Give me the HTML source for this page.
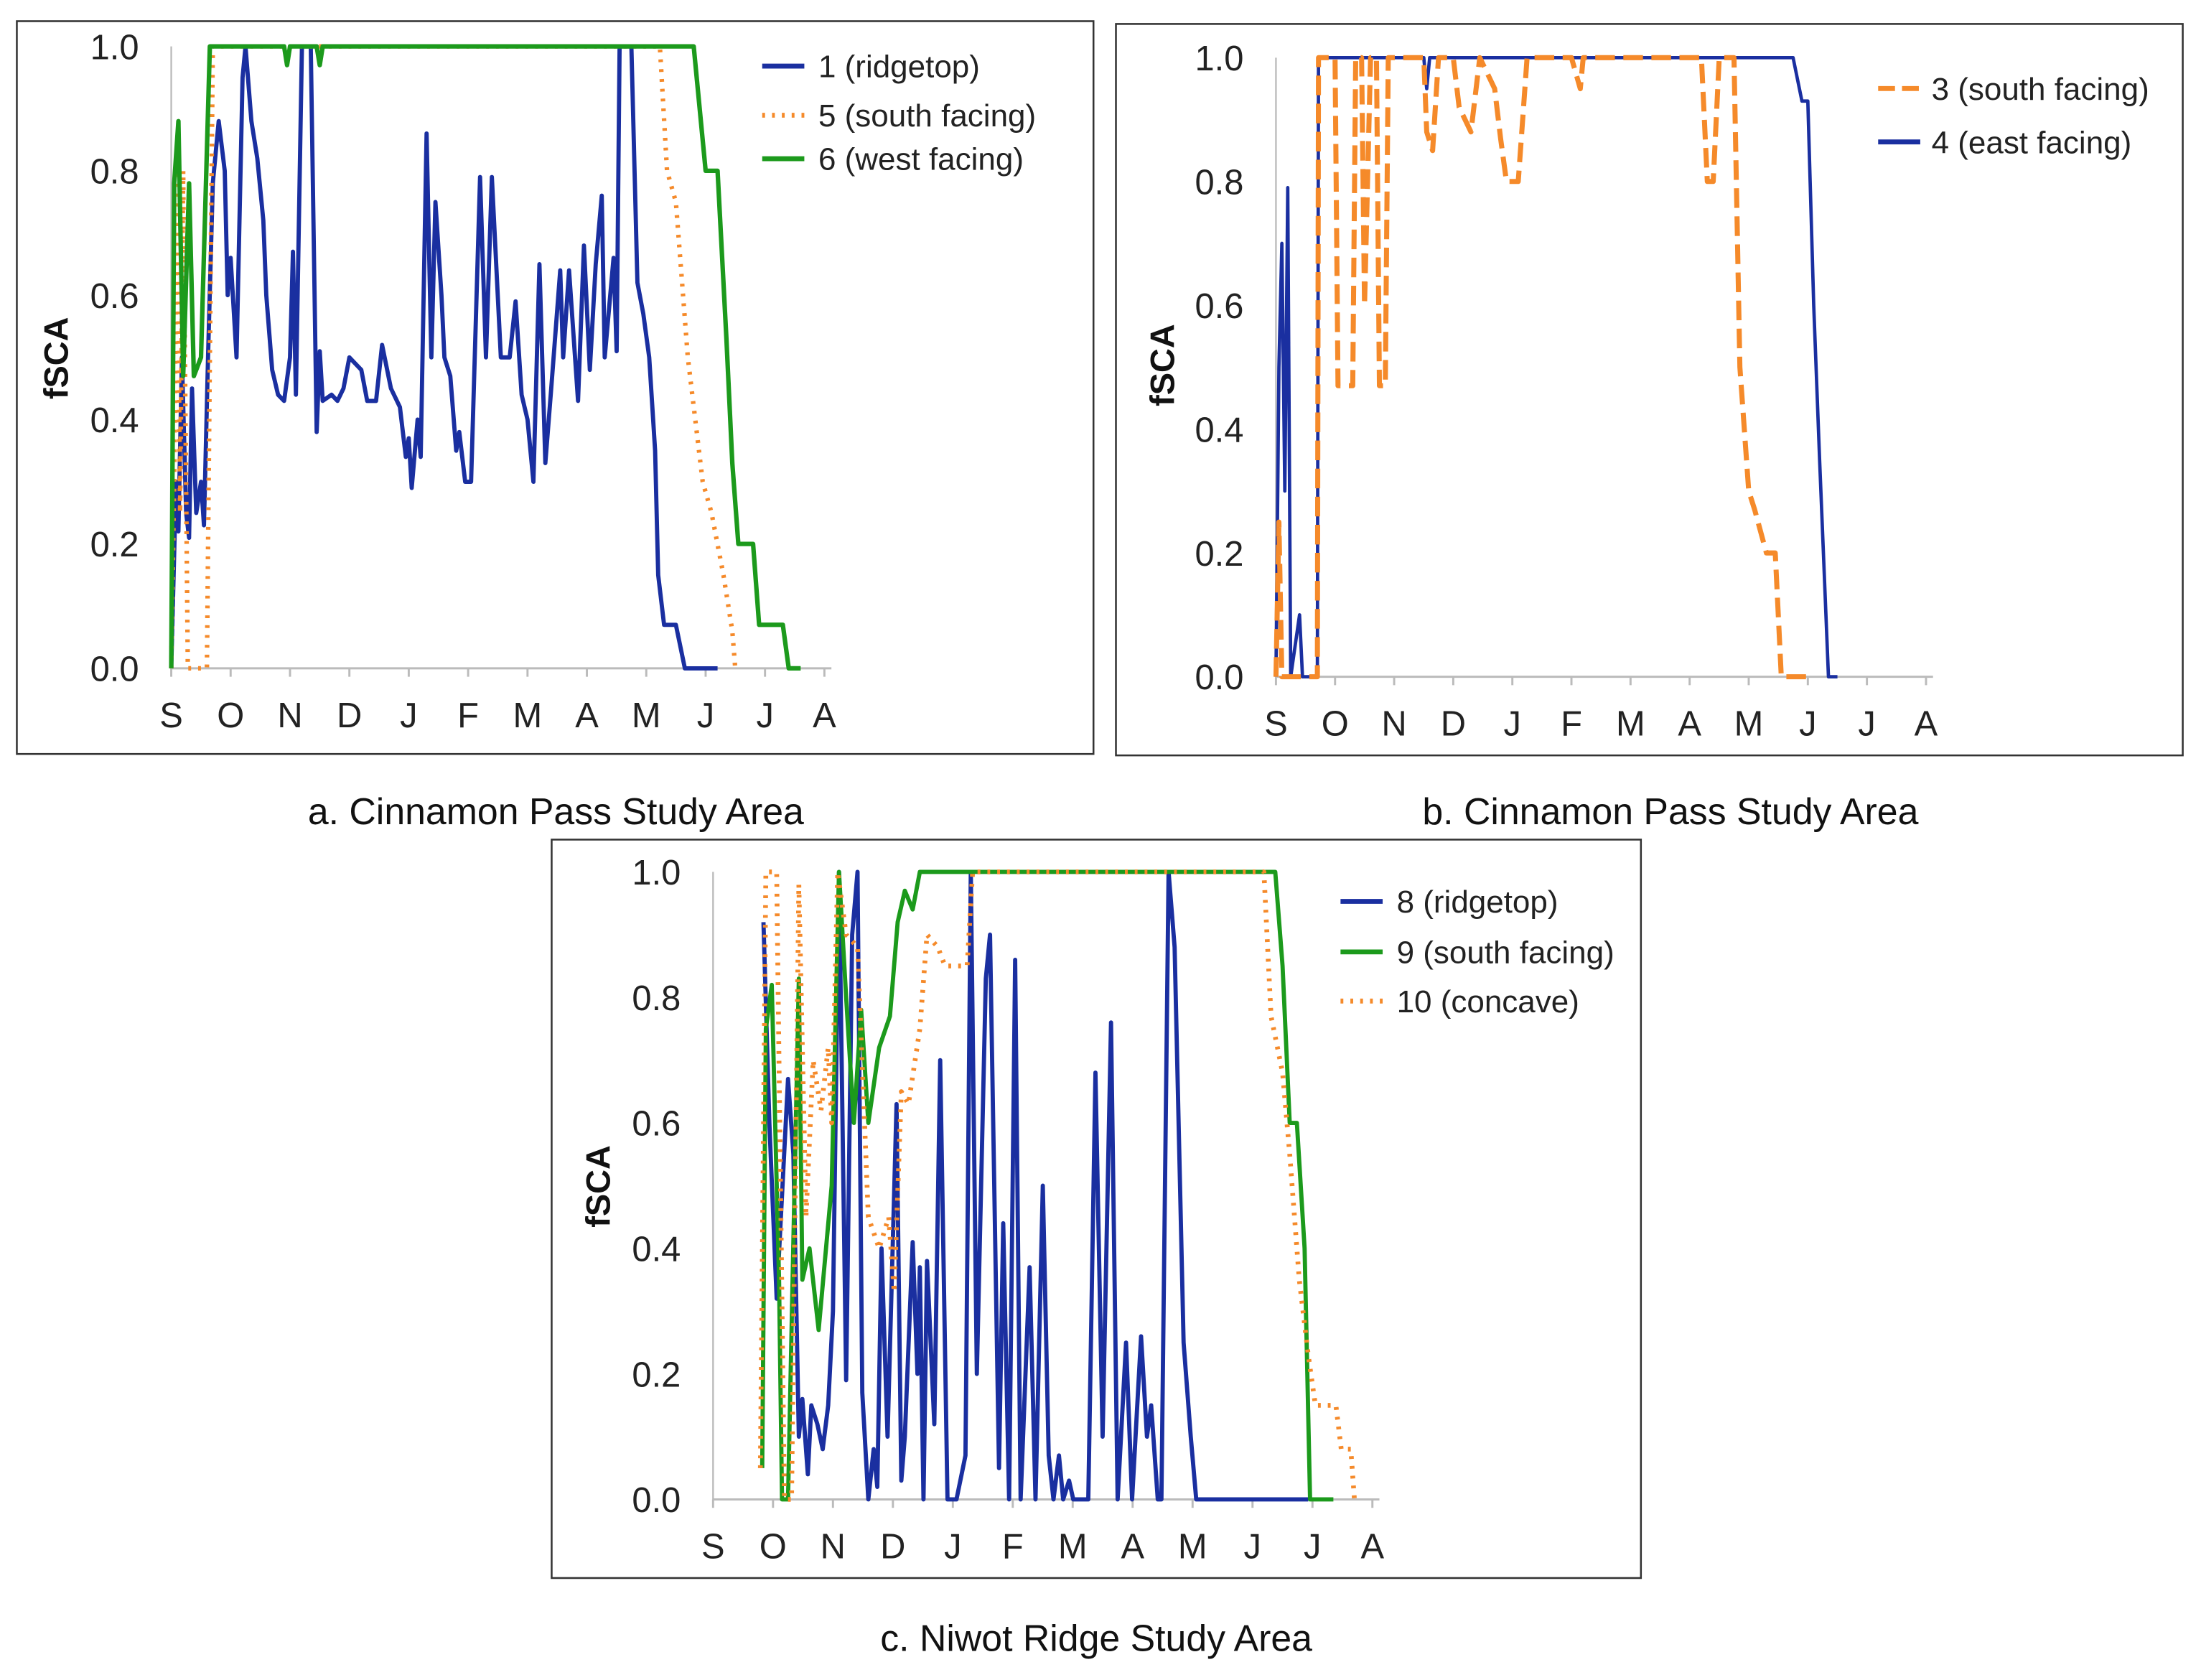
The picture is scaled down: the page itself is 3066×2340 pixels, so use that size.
<!DOCTYPE html>
<html><head><meta charset="utf-8"><style>
html,body{margin:0;padding:0;background:#fff;}
svg text{font-family:"Liberation Sans",sans-serif;}
</style></head><body>
<svg id="fig" xmlns="http://www.w3.org/2000/svg" width="3066" height="2335" viewBox="0 0 1568 1194">
<rect x="0" y="0" width="1568" height="1194" fill="#fff"/>
</svg>
<script>
const months = ["S","O","N","D","J","F","M","A","M","J","J","A"];
const yTicks = [0,0.2,0.4,0.6,0.8,1.0];
const yTickLabels = ["0.0","0.2","0.4","0.6","0.8","1.0"];
// series: [month offset from Sep 1, fSCA]
const s1Months=[0,0.08,0.12,0.18,0.25,0.3,0.35,0.42,0.5,0.55,0.62,0.7,0.8,0.9,0.95,1.0,1.1,1.2,1.25,1.35,1.45,1.55,1.6,1.7,1.8,1.9,2.0,2.05,2.1,2.2,2.35,2.45,2.5,2.55,2.7,2.8,2.9,3.0,3.2,3.3,3.45,3.55,3.7,3.85,3.95,4.0,4.05,4.15,4.2,4.3,4.38,4.45,4.55,4.6,4.7,4.8,4.85,4.95,5.05,5.2,5.3,5.4,5.55,5.7,5.8,5.9,6.0,6.1,6.2,6.3,6.4,6.55,6.6,6.7,6.85,6.95,7.05,7.15,7.25,7.3,7.45,7.5,7.55,7.75,7.85,7.95,8.05,8.15,8.2,8.3,8.5,8.65,9.2];
const s1Values=[0,0.3,0.22,0.5,0.25,0.21,0.45,0.25,0.3,0.23,0.5,0.78,0.88,0.8,0.6,0.66,0.5,0.95,1.0,0.88,0.82,0.72,0.6,0.48,0.44,0.43,0.5,0.67,0.44,1.0,1.0,0.38,0.51,0.43,0.44,0.43,0.45,0.5,0.48,0.43,0.43,0.52,0.45,0.42,0.34,0.37,0.29,0.4,0.34,0.86,0.5,0.75,0.6,0.5,0.47,0.35,0.38,0.3,0.3,0.79,0.5,0.79,0.5,0.5,0.59,0.44,0.4,0.3,0.65,0.33,0.45,0.64,0.5,0.64,0.43,0.68,0.48,0.65,0.76,0.5,0.66,0.51,1.0,1.0,0.62,0.57,0.5,0.35,0.15,0.07,0.07,0,0];
const s5Months=[0,0.05,0.1,0.15,0.2,0.28,0.6,0.65,0.7,8.23,8.35,8.5,8.7,8.95,9.1,9.3,9.45,9.5];
const s5Values=[0,0.3,0.84,0.25,0.8,0,0,0.5,1.0,1.0,0.8,0.75,0.5,0.3,0.25,0.15,0.06,0];
const s6Months=[0,0.05,0.12,0.2,0.3,0.38,0.5,0.65,1.9,1.95,2.0,2.45,2.5,2.55,8.8,9.0,9.2,9.35,9.45,9.55,9.8,9.9,10.3,10.4,10.6];
const s6Values=[0,0.78,0.88,0.47,0.78,0.47,0.5,1,1,0.97,1,1,0.97,1,1,0.8,0.8,0.53,0.33,0.2,0.2,0.07,0.07,0,0];
const s4Months=[0,0.05,0.1,0.15,0.2,0.25,0.4,0.45,0.7,0.72,2.5,2.55,2.6,8.75,8.9,9.0,9.1,9.2,9.35,9.5];
const s4Values=[0,0.5,0.7,0.3,0.79,0,0.1,0,0,1,1,0.95,1,1,0.93,0.93,0.6,0.35,0,0];
const s3Months=[0,0.05,0.1,0.7,0.72,1.0,1.05,1.3,1.35,1.45,1.5,1.6,1.7,1.75,1.85,1.9,2.5,2.55,2.65,2.75,3.0,3.1,3.3,3.45,3.7,3.8,3.9,4.1,4.25,5.0,5.15,5.2,7.2,7.3,7.4,7.5,7.75,7.85,8.0,8.1,8.3,8.45,8.55,9.0];
const s3Values=[0,0.25,0,0,1,1,0.47,0.47,1,1,0.6,1,1,0.47,0.47,1,1,0.88,0.85,1,1,0.92,0.88,1,0.95,0.87,0.8,0.8,1,1,0.95,1,1,0.8,0.8,1,1,0.5,0.3,0.27,0.2,0.2,0,0];
const s8Months=[0.84,0.94,1.06,1.25,1.34,1.43,1.49,1.58,1.64,1.74,1.83,1.92,2.0,2.1,2.22,2.32,2.41,2.49,2.59,2.68,2.74,2.81,2.91,3.06,3.14,3.2,3.33,3.41,3.45,3.51,3.57,3.69,3.79,3.91,4.06,4.21,4.3,4.4,4.55,4.62,4.77,4.84,4.94,5.04,5.13,5.28,5.38,5.5,5.6,5.68,5.77,5.84,5.94,6.01,6.26,6.38,6.5,6.64,6.75,6.89,6.99,7.14,7.24,7.31,7.42,7.48,7.6,7.7,7.85,7.97,8.06,9.93];
const s8Values=[0.92,0.6,0.32,0.67,0.55,0.1,0.16,0.04,0.15,0.12,0.08,0.15,0.3,1.0,0.19,0.9,1.0,0.17,0,0.08,0.02,0.4,0.1,0.63,0.03,0.1,0.41,0.2,0.37,0,0.38,0.12,0.7,0,0,0.07,1.0,0.2,0.83,0.9,0.05,0.44,0,0.86,0,0.37,0,0.5,0.07,0,0.07,0,0.03,0,0,0.68,0.1,0.76,0,0.25,0,0.26,0.1,0.15,0,0,1.0,0.88,0.25,0.1,0,0];
const s9Months=[0.82,0.88,0.98,1.1,1.15,1.25,1.43,1.49,1.61,1.76,1.98,2.1,2.22,2.35,2.47,2.59,2.77,2.95,3.08,3.2,3.33,3.45,9.38,9.5,9.62,9.74,9.87,9.96,10.35];
const s9Values=[0.05,0.75,0.82,0.35,0,0,0.83,0.35,0.4,0.27,0.5,1.0,0.8,0.6,0.78,0.6,0.72,0.77,0.92,0.97,0.94,1,1,0.85,0.6,0.6,0.4,0,0];
const s10Months=[0.79,0.88,1.06,1.19,1.31,1.43,1.55,1.67,1.8,1.92,1.98,2.08,2.22,2.41,2.59,2.77,2.93,3.02,3.14,3.26,3.45,3.57,3.75,3.87,4.24,4.33,9.19,9.31,9.5,9.62,9.78,9.93,10.05,10.39,10.48,10.64,10.7];
const s10Values=[0.05,1,1,0,0,0.98,0.45,0.7,0.62,0.72,0.6,1,0.9,0.88,0.45,0.4,0.45,0.33,0.65,0.63,0.75,0.9,0.88,0.85,0.85,1,1,0.77,0.68,0.55,0.35,0.23,0.15,0.15,0.08,0.08,0];

const BLUE="#1a2fa0", ORANGE="#f58a2a", GREEN="#1c9a1c";
const NS="http://www.w3.org/2000/svg";
const svg=document.getElementById('fig');
function mk(tag,attrs,parent){const e=document.createElementNS(NS,tag);for(const k in attrs)e.setAttribute(k,attrs[k]);(parent||svg).appendChild(e);return e;}

const panels=[
 {id:'a',box:[12,15,767,522],x0:122,dx:42.3,y1:33,y0:476,ylab:[42,255],
  series:[[s1Months,s1Values,BLUE,3,'', 'series-1-ridgetop'],[s5Months,s5Values,ORANGE,3.2,'2 5','series-5-south-facing'],[s6Months,s6Values,GREEN,3.2,'','series-6-west-facing']],
  legend:{x:543,tx:583,ys:[47,82,113],items:[["1 (ridgetop)",BLUE,''],["5 (south facing)",ORANGE,'2 5'],["6 (west facing)",GREEN,'']]},
  caption:[396,578,"a. Cinnamon Pass Study Area"]},
 {id:'b',box:[795,17,760,521],x0:909,dx:42.1,y1:41,y0:482,ylab:[830,260],
  series:[[s4Months,s4Values,BLUE,2.4,'','series-4-east-facing'],[s3Months,s3Values,ORANGE,3.6,'14 6','series-3-south-facing']],
  legend:{x:1338,tx:1376,ys:[63,101],items:[["3 (south facing)",ORANGE,'12 5'],["4 (east facing)",BLUE,'']]},
  caption:[1190,578,"b. Cinnamon Pass Study Area"]},
 {id:'c',box:[393,598,776,526],x0:508,dx:42.7,y1:621,y0:1068,ylab:[428,845],
  series:[[s8Months,s8Values,BLUE,3,'','series-8-ridgetop'],[s9Months,s9Values,GREEN,3,'','series-9-south-facing'],[s10Months,s10Values,ORANGE,3.4,'2 5','series-10-concave']],
  legend:{x:955,tx:995,ys:[642,678,713],items:[["8 (ridgetop)",BLUE,''],["9 (south facing)",GREEN,''],["10 (concave)",ORANGE,'2 5']]},
  caption:[781,1167,"c. Niwot Ridge Study Area"]}
];

panels.forEach(p=>{
  const g=mk('g',{});
  
  
  const xs=m=>p.x0+m*p.dx, ys=v=>p.y0-v*(p.y0-p.y1);
  const fr=mk('rect',{x:p.box[0],y:p.box[1],width:p.box[2],height:p.box[3],fill:'none',stroke:'#333','stroke-width':1.3},g);
  
  
  const ya=mk('line',{x1:p.x0,y1:p.y1,x2:p.x0,y2:p.y0,stroke:'#bbb','stroke-width':1.2},g);
  
  
  const xa=mk('line',{x1:p.x0,y1:p.y0,x2:xs(11)+5,y2:p.y0,stroke:'#bbb','stroke-width':1.5},g);
  
  
  months.forEach((m,i)=>{
    mk('line',{x1:xs(i),y1:p.y0,x2:xs(i),y2:p.y0+6,stroke:'#bbb','stroke-width':1.5},g);
    const t=mk('text',{x:xs(i),y:p.y0+42,'text-anchor':'middle','font-size':25,fill:'#222'},g);
    t.textContent=m;
    
    
  });
  yTicks.forEach((v,i)=>{
    const t=mk('text',{x:p.x0-23,y:ys(v)+9,'text-anchor':'end','font-size':25,fill:'#222'},g);
    t.textContent=yTickLabels[i];
    
    
  });
  const yl=mk('text',{x:p.ylab[0],y:p.ylab[1],'text-anchor':'middle','font-size':24,'font-weight':'bold',fill:'#111',transform:`rotate(-90 ${p.ylab[0]} ${p.ylab[1]})`,'dominant-baseline':'middle'},g);
  yl.textContent='fSCA';
  
  
  p.series.forEach(s=>{
    const pts=s[0].map((m,i)=>xs(m).toFixed(1)+','+ys(s[1][i]).toFixed(1)).join(' ');
    const pl=mk('polyline',{points:pts,fill:'none',stroke:s[2],'stroke-width':s[3],'stroke-linejoin':'round','stroke-dasharray':s[4]||'none'},g);
    
    
  });
  p.legend.items.forEach((it,i)=>{
    const y=p.legend.ys[i];
    const ln=mk('line',{x1:p.legend.x,y1:y,x2:p.legend.x+30,y2:y,stroke:it[1],'stroke-width':3.5,'stroke-dasharray':it[2]||'none'},g);
    
    
    const t=mk('text',{x:p.legend.tx,y:y+8,'font-size':22.5,fill:'#222'},g);
    t.textContent=it[0];
    
    
  });
  const c=mk('text',{x:p.caption[0],y:p.caption[1]+9,'text-anchor':'middle','font-size':26.5,fill:'#111'},g);
  c.textContent=p.caption[2];
  
  
});
</script>
</body></html>
